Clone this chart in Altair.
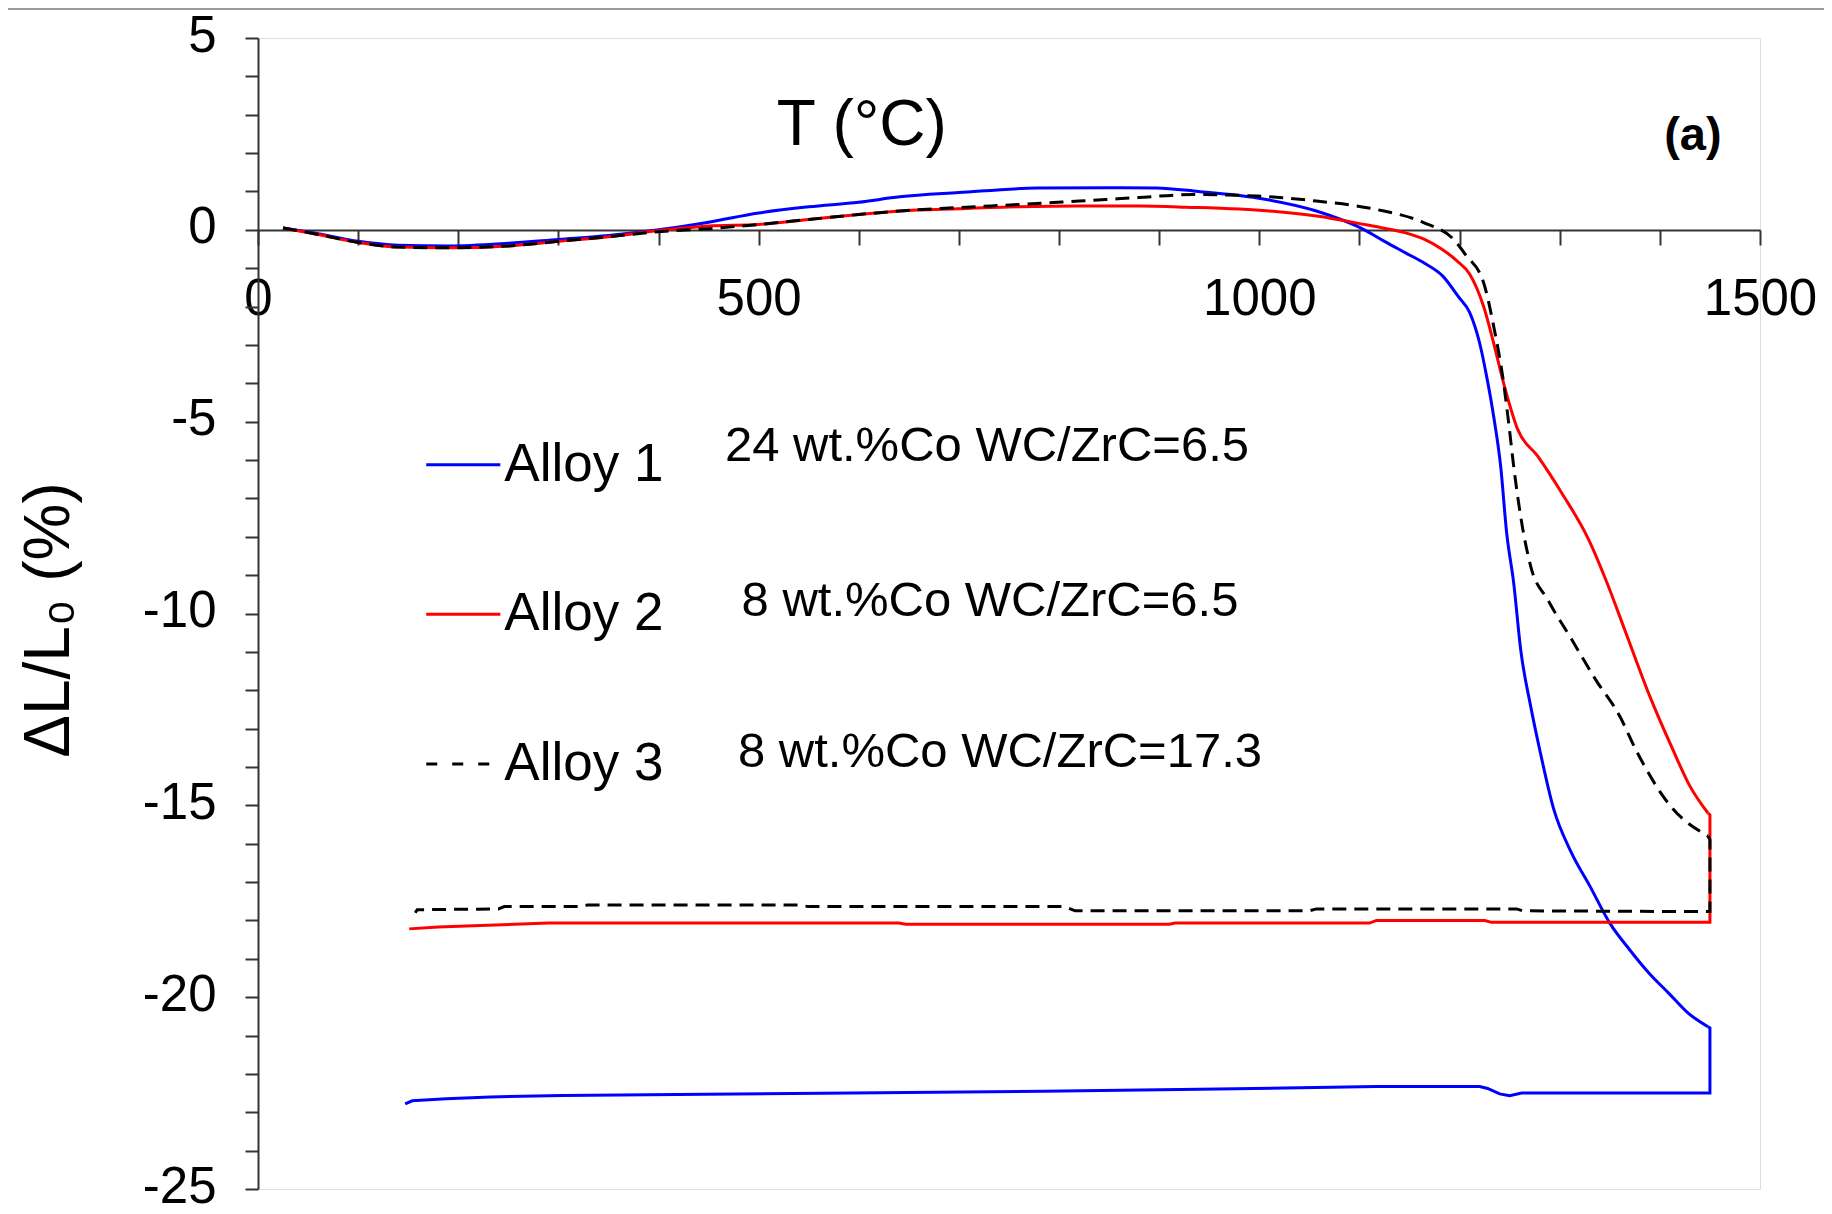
import altair as alt
import pandas as pd

# ---------------- data ----------------
# Alloy 1 (blue): heating branch (T increasing) and cooling branch (drop at the top, then back)
a1_heat_T = [25, 60, 100, 140, 190, 250, 300, 350, 400, 450, 500, 550, 600, 641, 700,
             778, 850, 897, 939, 998, 1057, 1105, 1125, 1146, 1165, 1183, 1199, 1210,
             1220, 1227, 1234, 1241, 1247, 1254, 1261, 1271, 1280, 1294, 1311, 1330,
             1350, 1370, 1389, 1409, 1428, 1448]
a1_heat_dL = [0.05, -0.1, -0.3, -0.4, -0.42, -0.35, -0.25, -0.15, 0.0, 0.2, 0.44, 0.6,
              0.72, 0.86, 0.97, 1.09, 1.1, 1.09, 1.0, 0.83, 0.49, 0.0, -0.3, -0.6,
              -0.87, -1.2, -1.75, -2.15, -2.95, -3.82, -4.86, -6.16, -7.9, -9.2,
              -10.94, -12.42, -13.55, -15.1, -16.2, -17.1, -18.07, -18.77, -19.37,
              -19.9, -20.41, -20.77]
a1_cool_T = [1448, 1450, 1450, 1262, 1250, 1240, 1228, 1220, 1117, 940, 784, 593, 304,
             232, 188, 154, 147]
a1_cool_dL = [-20.77, -20.8, -22.5, -22.5, -22.57, -22.52, -22.38, -22.33, -22.33,
              -22.4, -22.45, -22.5, -22.56, -22.6, -22.65, -22.7, -22.78]

# Alloy 2 (red)
a2_heat_T = [25, 60, 100, 140, 190, 250, 300, 350, 400, 450, 500, 550, 600, 641, 700,
             760, 820, 880, 927, 1010, 1057, 1105, 1125, 1146, 1165, 1182, 1197, 1210,
             1224, 1234, 1244, 1258, 1278, 1302, 1329, 1346, 1366, 1390, 1413, 1430,
             1448]
a2_heat_dL = [0.05, -0.12, -0.33, -0.45, -0.47, -0.42, -0.3, -0.18, -0.02, 0.1, 0.14,
              0.27, 0.4, 0.49, 0.55, 0.6, 0.62, 0.62, 0.59, 0.49, 0.36, 0.14, 0.04,
              -0.08, -0.25, -0.5, -0.8, -1.15, -2.0, -2.95, -4.0, -5.2, -5.9, -6.86,
              -8.08, -9.12, -10.5, -12.16, -13.55, -14.5, -15.2]
a2_cool_T = [1448, 1450, 1450, 1232, 1225, 1117, 1110, 916, 910, 647, 640, 290, 222,
             180, 151]
a2_cool_dL = [-15.2, -15.25, -18.05, -18.05, -18.0, -18.0, -18.07, -18.07, -18.1, -18.1,
              -18.07, -18.07, -18.13, -18.17, -18.22]

# Alloy 3 (black dashed)
a3_heat_T = [25, 60, 100, 140, 190, 250, 300, 350, 400, 450, 500, 550, 600, 641, 700,
             760, 820, 879, 933, 998, 1057, 1117, 1164, 1194, 1206, 1224, 1234, 1244,
             1249, 1254, 1261, 1271, 1288, 1312, 1336, 1360, 1376, 1410, 1448]
a3_heat_dL = [0.05, -0.12, -0.33, -0.45, -0.47, -0.42, -0.3, -0.18, -0.05, 0.03, 0.14,
              0.27, 0.4, 0.49, 0.58, 0.66, 0.75, 0.84, 0.92, 0.88, 0.75, 0.53, 0.19,
              -0.25, -0.65, -1.38, -2.51, -4.0, -5.03, -6.16, -7.47, -8.77, -9.64,
              -10.68, -11.73, -12.68, -13.55, -15.0, -15.8]
a3_cool_T = [1448, 1450, 1450, 1263, 1257, 1057, 1050, 816, 806, 550, 540, 329, 320,
             246, 240, 159, 157]
a3_cool_dL = [-15.8, -15.9, -17.77, -17.75, -17.7, -17.7, -17.75, -17.75, -17.64,
              -17.64, -17.6, -17.6, -17.64, -17.64, -17.7, -17.72, -17.8]

# legend / annotation content
legend_names = ["Alloy 1", "Alloy 2", "Alloy 3"]
legend_colors = ["#0000FF", "#FF0000", "#000000"]
legend_y = [-6.12, -10.02, -13.92]
legend_x1 = [168, 168, 168]
legend_x2 = [242, 242, 242]
legend_text_x = [246, 246, 246]

notes = ["24 wt.%Co WC/ZrC=6.5", "8 wt.%Co WC/ZrC=6.5", "8 wt.%Co WC/ZrC=17.3"]
notes_x = [728, 731, 741]
notes_y = [-5.63, -9.67, -13.62]

x_ticks = list(range(0, 1501, 100))
y_ticks = list(range(-25, 6))

FONT = "Liberation Sans"
W, H = 1502, 1151
Y0_OFFSET = -959  # x axis drawn at dL = 0


def path_df(T, dL):
    return pd.DataFrame({"T": T, "dL": dL, "i": list(range(len(T)))})


xscale = alt.Scale(domain=[0, 1500], nice=False, zero=False)
yscale = alt.Scale(domain=[-25, 5], nice=False, zero=False)

x_axis = alt.Axis(values=x_ticks,
                  labelExpr="datum.value % 500 == 0 ? '' + datum.value : ''",
                  title=None, offset=Y0_OFFSET, tickSize=15, labelPadding=29,
                  labelFontSize=51, labelFont=FONT, labelColor="black",
                  domainColor="#333333", domainWidth=2, tickColor="#333333",
                  tickWidth=2, grid=False, labelFlush=False, labelOverlap=False)
y_axis = alt.Axis(values=y_ticks,
                  labelExpr="datum.value % 5 == 0 ? '' + datum.value : ''",
                  title=None, tickSize=13, labelPadding=29, labelOffset=-2,
                  labelFontSize=51, labelFont=FONT, labelColor="black",
                  domainColor="#333333", domainWidth=2, tickColor="#333333",
                  tickWidth=2, grid=False, labelFlush=False, labelOverlap=False)

X = alt.X("T:Q", scale=xscale, axis=x_axis)
Y = alt.Y("dL:Q", scale=yscale, axis=y_axis)


def curve(T, dL, color, dash=None, smooth=False):
    kw = dict(color=color, strokeWidth=3, clip=False)
    if dash:
        kw["strokeDash"] = dash
    if smooth:
        kw["interpolate"] = "monotone"
    return alt.Chart(path_df(T, dL)).mark_line(**kw).encode(
        x=X, y=Y, order=alt.Order("i:Q"))


layers = [
    curve(a1_heat_T, a1_heat_dL, "#0000FF", smooth=True),
    curve(a1_cool_T, a1_cool_dL, "#0000FF"),
    curve(a2_heat_T, a2_heat_dL, "#FF0000", smooth=True),
    curve(a2_cool_T, a2_cool_dL, "#FF0000"),
    curve(a3_heat_T, a3_heat_dL, "#000000", [14, 8], smooth=True),
    curve(a3_cool_T, a3_cool_dL, "#000000", [14, 8]),
]

leg_df = pd.DataFrame({"T": legend_x1, "T2": legend_x2, "dL": legend_y,
                       "color": legend_colors, "name": legend_names,
                       "tx": legend_text_x})
leg_solid = alt.Chart(leg_df.iloc[:2]).mark_rule(strokeWidth=3).encode(
    x=X, x2="T2:Q", y=Y, color=alt.Color("color:N", scale=None))
leg_dash = alt.Chart(leg_df.iloc[2:]).mark_rule(strokeWidth=3, strokeDash=[11, 15],
                                                color="#000000").encode(
    x=X, x2="T2:Q", y=Y)
leg_text = alt.Chart(leg_df).mark_text(align="left", baseline="middle",
                                       font=FONT, fontSize=53, color="black").encode(
    x=alt.X("tx:Q", scale=xscale, axis=x_axis), y=Y, text="name:N")

note_df = pd.DataFrame({"T": notes_x, "dL": notes_y, "label": notes})
note_text = alt.Chart(note_df).mark_text(align="center", baseline="middle",
                                         font=FONT, fontSize=49, color="black").encode(
    x=X, y=Y, text="label:N")

title_df = pd.DataFrame({"T": [603], "dL": [2.70], "label": ["T (°C)"]})
title_text = alt.Chart(title_df).mark_text(align="center", baseline="middle",
                                           font=FONT, fontSize=64, color="black").encode(
    x=X, y=Y, text="label:N")

panel_df = pd.DataFrame({"T": [1433], "dL": [2.45], "label": ["(a)"]})
panel_text = alt.Chart(panel_df).mark_text(align="center", baseline="middle",
                                           font=FONT, fontSize=47, fontWeight="bold",
                                           color="black").encode(
    x=X, y=Y, text="label:N")

ytitle_df = pd.DataFrame({"label": ["ΔL/L₀ (%)"]})
ytitle = alt.Chart(ytitle_df).mark_text(align="center", baseline="middle", angle=270,
                                        font=FONT, fontSize=64, color="black").encode(
    x=alt.value(-208), y=alt.value(582), text="label:N")

border = alt.Chart(pd.DataFrame({"k": [0]})).mark_rule(color="#9a9a9a", strokeWidth=2).encode(
    x=alt.value(-250), x2=alt.value(1566), y=alt.value(-29))

chart = alt.layer(
    *layers, leg_solid, leg_dash, leg_text, note_text, title_text, panel_text,
    ytitle, border
).properties(
    width=W, height=H,
    autosize=alt.AutoSizeParams(type="none"),
    padding={"left": 250, "top": 30, "right": 64, "bottom": 17},
    background="white",
).configure_view(stroke=None).configure(font=FONT)

chart.save("out.html", embed_options={"renderer": "svg", "actions": False})
